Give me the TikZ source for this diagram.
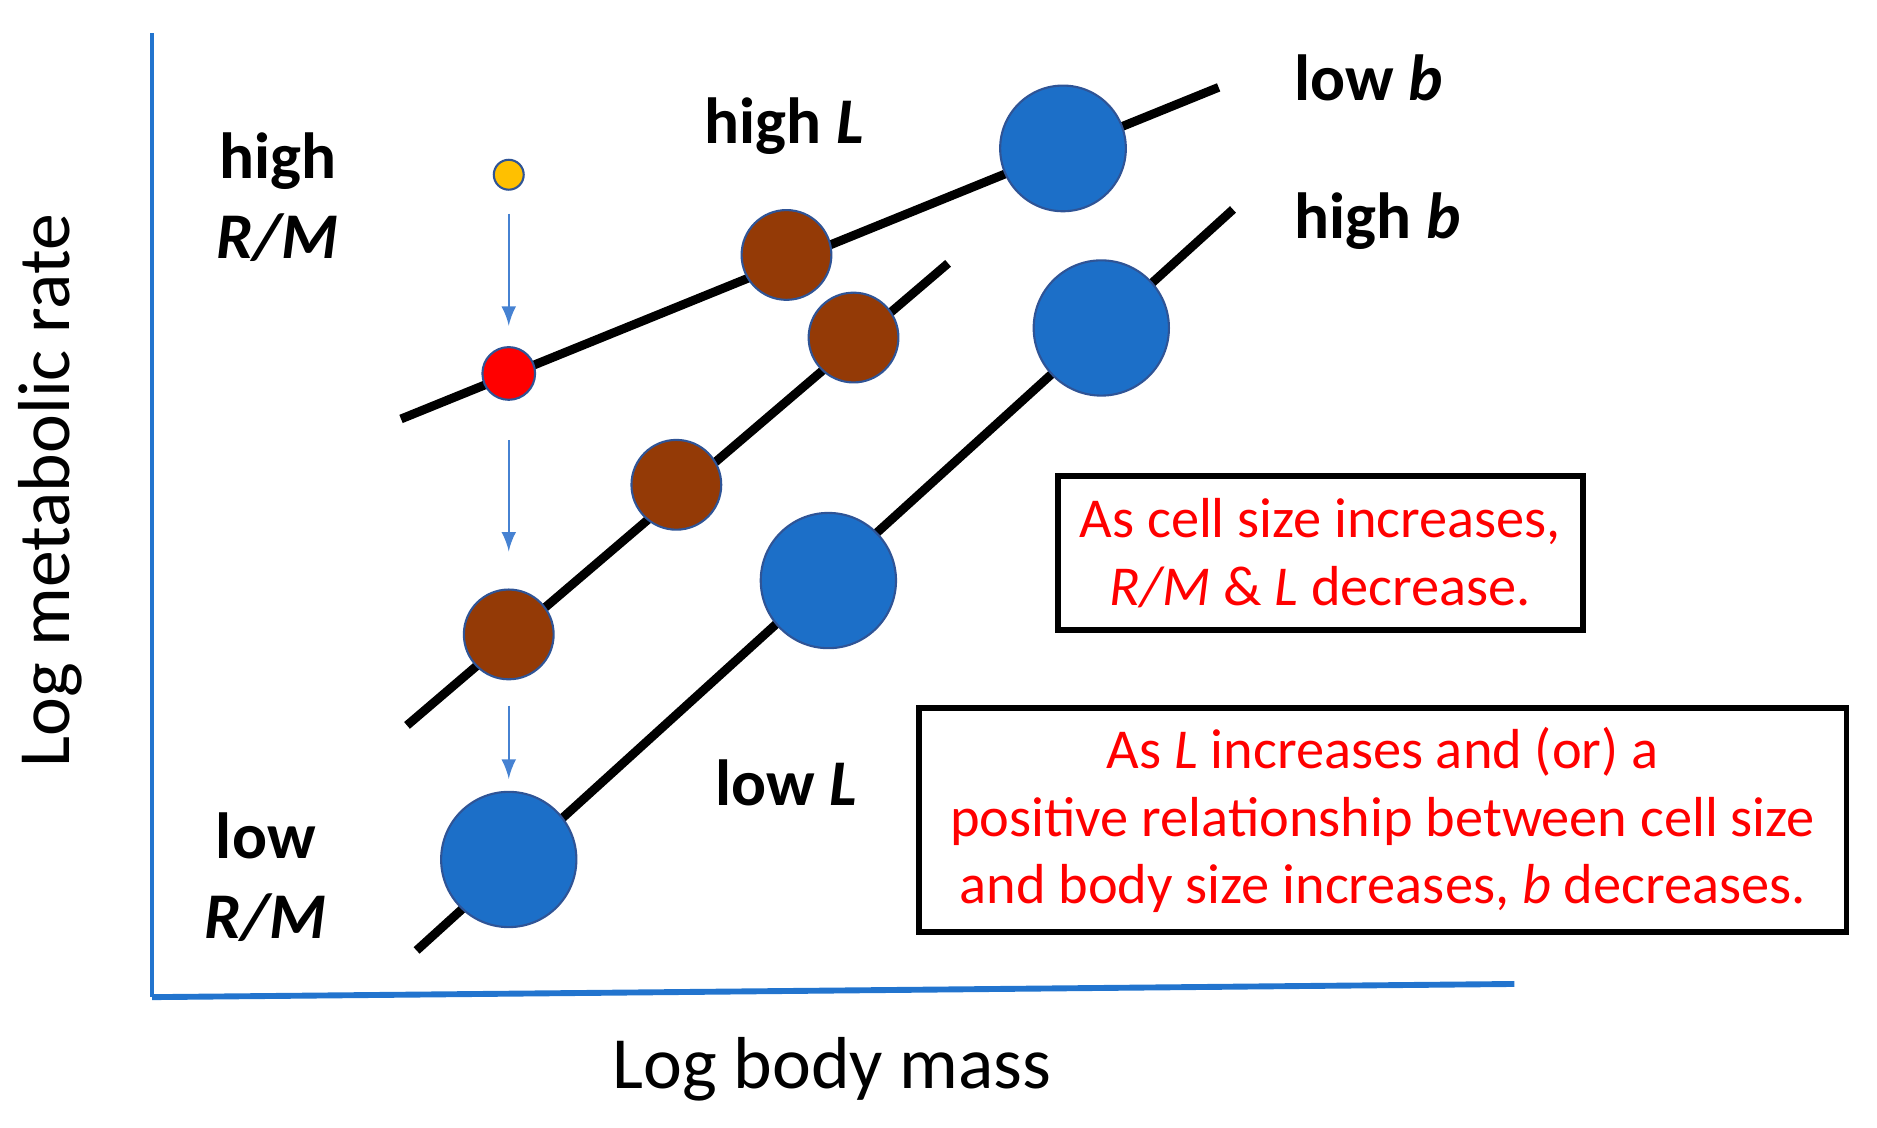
\documentclass[tikz,border=0pt]{standalone}
\usepackage{fontspec}
\setmainfont{Carlito}
\usetikzlibrary{arrows}
\usetikzlibrary{positioning}
\definecolor{cellblue}{RGB}{28,111,200}
\definecolor{cellbrown}{RGB}{148,58,6}
\definecolor{cellyellow}{RGB}{255,192,0}
\definecolor{celledge}{RGB}{47,84,150}
\definecolor{axisblue}{RGB}{34,116,206}
\definecolor{dropblue}{RGB}{70,130,210}

\begin{document}
\begin{tikzpicture}[
    cell/.style={circle, inner sep=0pt, draw=celledge, line width=0.5pt},
    fitline/.style={line width=2.1pt},
    drop/.style={color=dropblue, line width=0.6pt, -latex},
    lbl/.style={font=\bfseries\fontsize{15.5}{19}\selectfont, align=center},
    note/.style={draw, line width=1.4pt, text=red, align=center, inner sep=0pt,
      font=\fontsize{13.4}{16}\selectfont}]
  \useasboundingbox (0,0) rectangle (15.68,9.42);

  % axes
  \coordinate (o) at (1.27,1.09); \coordinate (ytop) at (1.27,9.14); \coordinate (xend) at (12.65,1.20);
  \draw[axisblue, line width=1pt] (ytop) -- (o);
  \draw[axisblue, line width=1.4pt] (o) -- (xend);
  \node[rotate=90, font=\fontsize{17.5}{21}\selectfont] (ylab) at (0.42,5.32) {Log metabolic rate};
  \node[font=\fontsize{17.5}{21}\selectfont] (xlab) at (6.95,0.49) {Log body mass};

  % the three lines
  \coordinate (a0) at (3.35,5.92); \coordinate (a1) at (10.18,8.69);
  \coordinate (b0) at (3.40,3.36); \coordinate (b1) at (7.92,7.22);
  \coordinate (c0) at (3.48,1.48); \coordinate (c1) at (10.30,7.67);
  \draw[fitline] (a0) -- (a1);
  \draw[fitline] (b0) -- (b1);
  \draw[fitline] (c0) -- (c1);

  % cells
  \node[cell, fill=cellyellow, minimum size=0.25cm] (y1) at (4.25,7.96) {};
  \node[cell, fill=red, minimum size=0.44cm] (r1) at (4.25,6.30) {};
  \node[cell, fill=cellbrown, minimum size=0.75cm] (n1) at (6.57,7.29) {};
  \node[cell, fill=cellbrown, minimum size=0.75cm] (n2) at (7.13,6.60) {};
  \node[cell, fill=cellbrown, minimum size=0.75cm] (n3) at (5.65,5.37) {};
  \node[cell, fill=cellbrown, minimum size=0.75cm] (n4) at (4.25,4.12) {};
  \node[cell, fill=cellblue, minimum size=1.05cm] (m1) at (8.88,8.18) {};
  \node[cell, fill=cellblue, minimum size=1.13cm] (m2) at (9.20,6.68) {};
  \node[cell, fill=cellblue, minimum size=1.13cm] (m3) at (6.92,4.57) {};
  \node[cell, fill=cellblue, minimum size=1.13cm] (m4) at (4.25,2.24) {};

  \path[drop]
  (y1) edge[shorten <=0.19cm, shorten >=0.17cm] (r1)
  (r1) edge[shorten <=0.33cm, shorten >=0.31cm] (n4)
  (n4) edge[shorten <=0.21cm, shorten >=0.10cm] (m4);

  % labels
  \node[lbl] (hirm) at (2.32,7.77) {high\\\textit{R/M}};
  \node[lbl] (lorm) at (2.22,2.09) {low\\\textit{R/M}};
  \node[lbl] (hil) at (6.55,8.37) {high \textit{L}};
  \node[lbl] (lol) at (6.57,2.88) {low \textit{L}};
  \node[lbl, anchor=west] (lob) at (10.69,8.77) {low \textit{b}};
  \node[lbl, anchor=west] (hib) at (10.69,7.57) {high \textit{b}};

  % notes
  \node[note, minimum width=4.39cm, minimum height=1.29cm] (note1) at (11.03,4.80)
    {As cell size increases,\\\textit{R/M} \& \textit{L} decrease.};
  \node[note, minimum width=7.75cm, minimum height=1.87cm] (note2) at (11.55,2.57)
    {As \textit{L} increases and (or) a\\positive relationship between cell size\\and body size increases, \textit{b} decreases.};
\end{tikzpicture}
\end{document}
